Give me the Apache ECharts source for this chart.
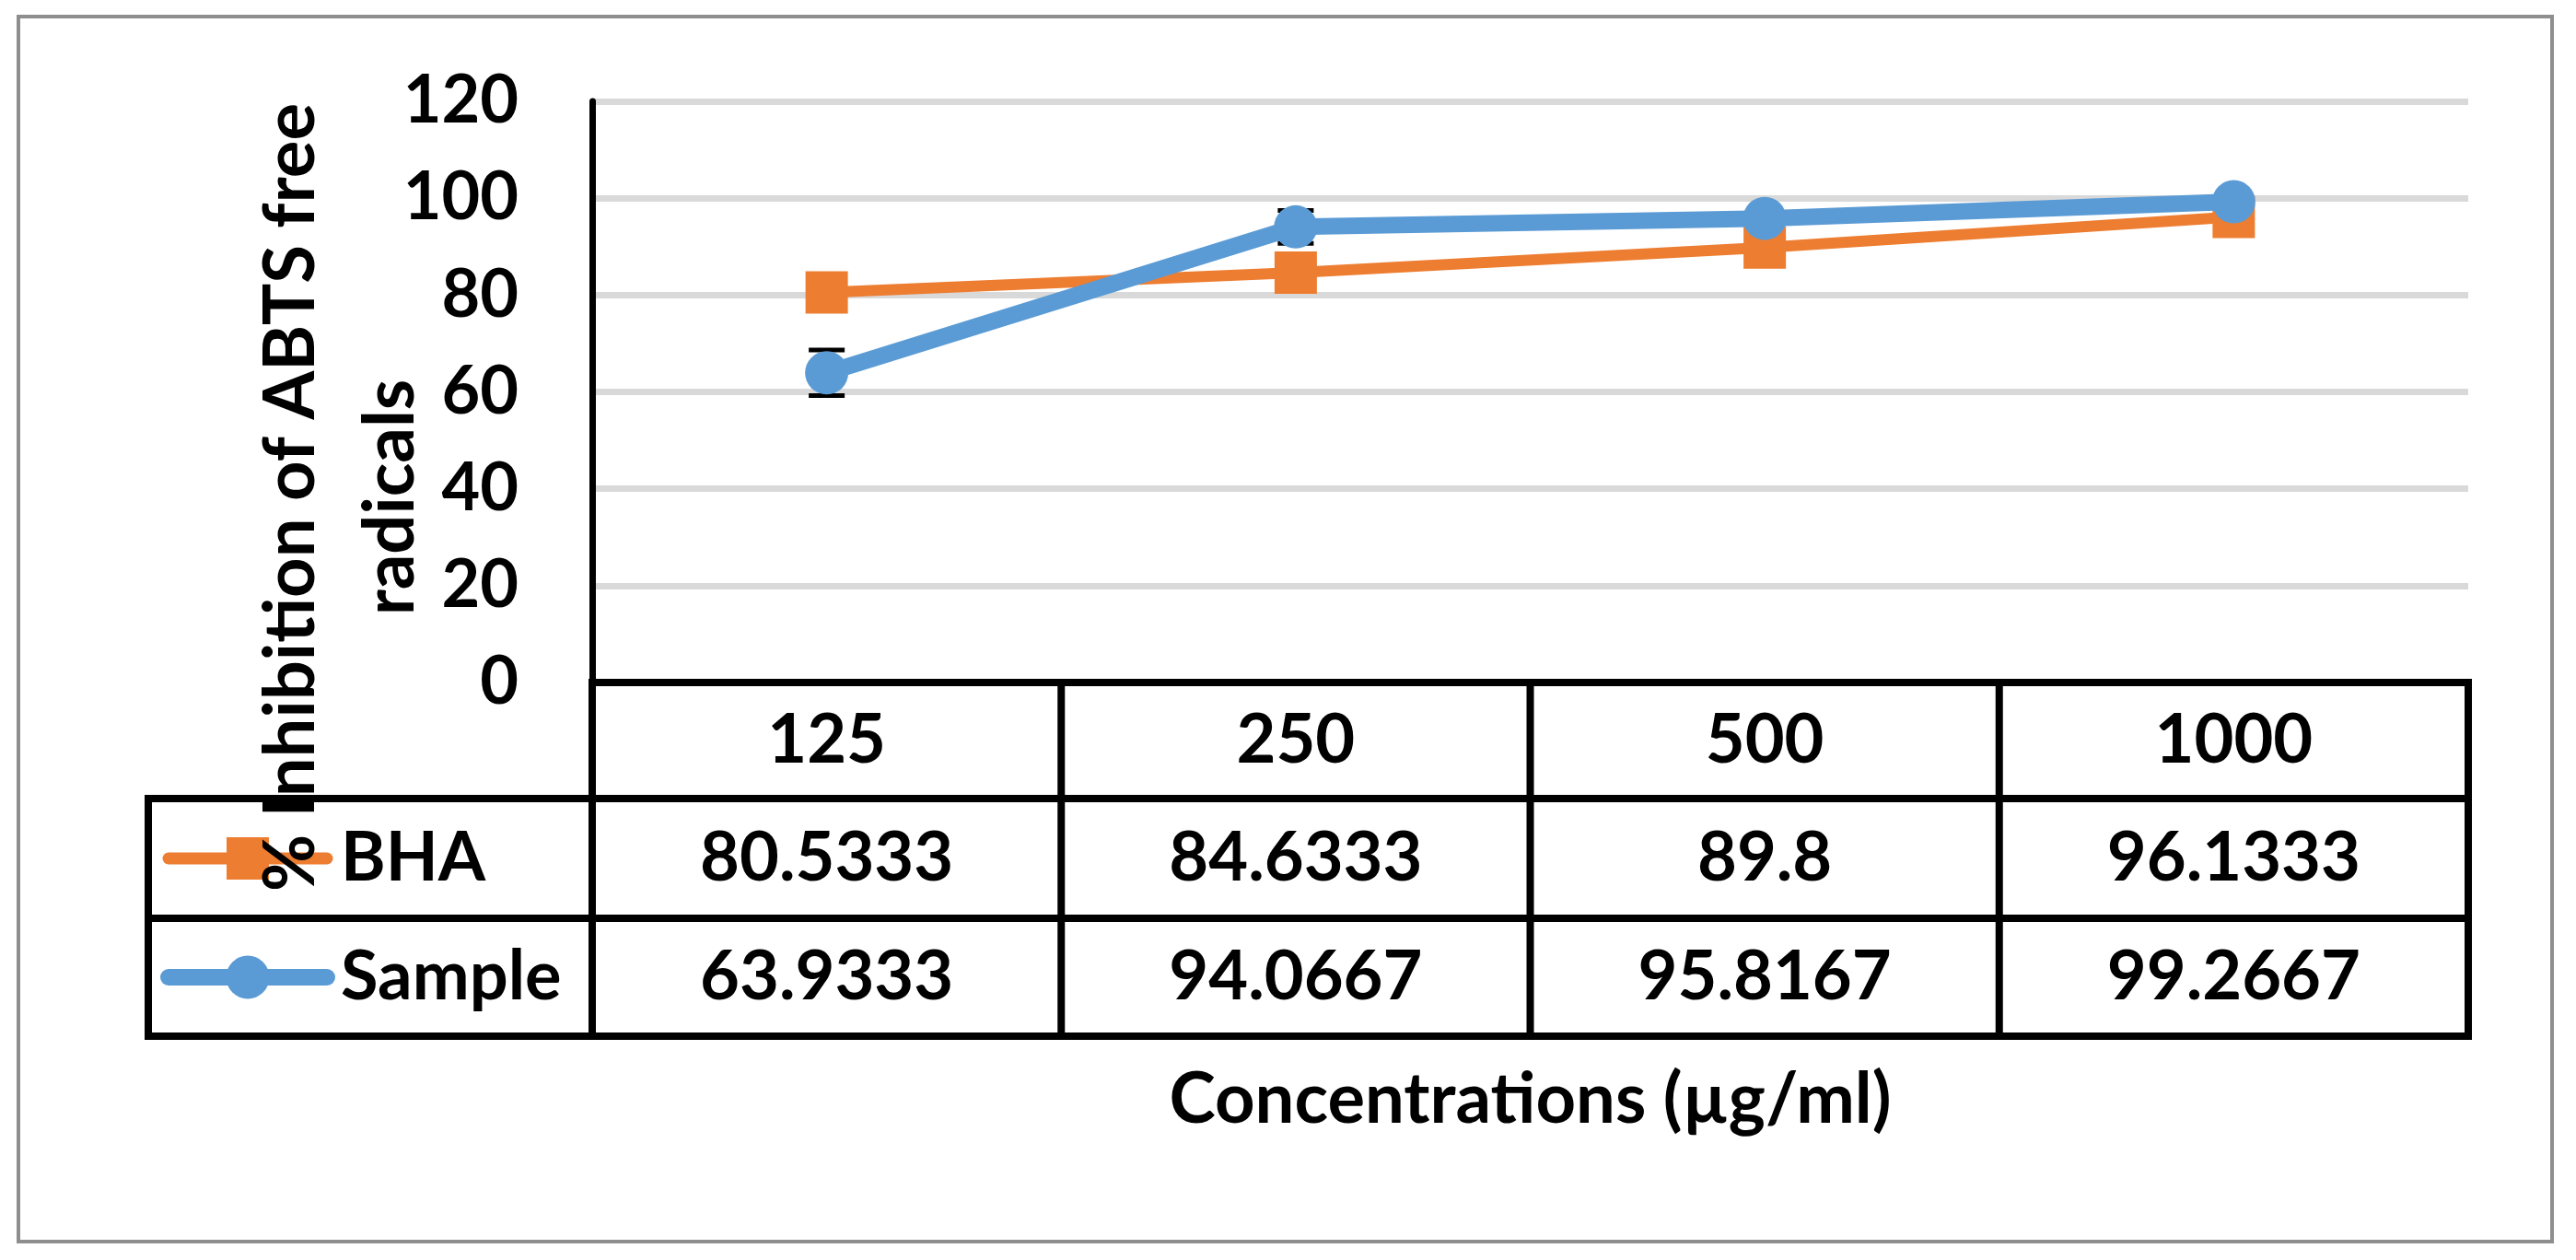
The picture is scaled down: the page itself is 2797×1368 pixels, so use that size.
<!DOCTYPE html>
<html>
<head>
<meta charset="utf-8">
<script src="https://cdn.jsdelivr.net/npm/echarts@6/dist/echarts.min.js"></script>
<style>
html,body{margin:0;padding:0;background:#fff;}
#chart{width:2797px;height:1368px;}
</style>
</head>
<body>
<div id="chart"></div>
<script>
const categories = ['125', '250', '500', '1000'];
const bhaValues = [80.5333, 84.6333, 89.8, 96.1333];
const sampleValues = [63.9333, 94.0667, 95.8167, 99.2667];
const sampleErrors = [4.7, 3.4, 1.0, 0.8];
const seriesNames = ['BHA', 'Sample'];
const yAxisTitleLines = ['% Inhibition of ABTS free', 'radicals'];
const xAxisTitle = 'Concentrations (\u00b5g/ml)';

const FONT = 'Lato';
const FS = 72;
const TABLE_FS = 74;
const TITLE_FS = 76;
const BHA_COLOR = '#ED7D31';
const SAMPLE_COLOR = '#5B9BD5';

const chart = echarts.init(document.getElementById('chart'), null, {renderer: 'canvas'});

const option = {
  animation: false,
  backgroundColor: '#fff',
  grid: {left: 643, right: 117, top: 110, bottom: 627, containLabel: false},
  xAxis: {
    type: 'category',
    data: categories,
    boundaryGap: true,
    axisLine: {show: true, lineStyle: {color: '#000', width: 8}},
    axisTick: {show: false},
    axisLabel: {show: false},
    splitLine: {show: false}
  },
  yAxis: {
    type: 'value',
    min: 0, max: 120, interval: 20,
    axisLine: {show: true, lineStyle: {color: '#000', width: 7}},
    axisTick: {show: false},
    axisLabel: {color: '#000', fontFamily: FONT, fontWeight: 'bold', fontSize: FS, margin: 80},
    splitLine: {show: true, lineStyle: {color: '#D9D9D9', width: 7}}
  },
  series: [
    {
      name: seriesNames[0], type: 'line', data: bhaValues,
      symbol: 'rect', symbolSize: 46,
      itemStyle: {color: BHA_COLOR},
      lineStyle: {color: BHA_COLOR, width: 12, cap: 'round'},
      z: 2
    },
    {
      name: 'err', type: 'custom', z: 3,
      data: sampleValues.map((v, i) => [i, v - sampleErrors[i], v + sampleErrors[i]]),
      renderItem: function (params, api) {
        const lo = api.coord([api.value(0), api.value(1)]);
        const hi = api.coord([api.value(0), api.value(2)]);
        const hw = 19.5;
        const st = {stroke: '#000', lineWidth: 5};
        return {type: 'group', children: [
          {type: 'line', shape: {x1: lo[0], y1: lo[1], x2: hi[0], y2: hi[1]}, style: st},
          {type: 'line', shape: {x1: lo[0] - hw, y1: lo[1], x2: lo[0] + hw, y2: lo[1]}, style: st},
          {type: 'line', shape: {x1: hi[0] - hw, y1: hi[1], x2: hi[0] + hw, y2: hi[1]}, style: st}
        ]};
      }
    },
    {
      name: seriesNames[1], type: 'line', data: sampleValues,
      symbol: 'circle', symbolSize: 47,
      itemStyle: {color: SAMPLE_COLOR},
      lineStyle: {color: SAMPLE_COLOR, width: 18, cap: 'round'},
      z: 4
    }
  ]
};
chart.setOption(option);

// ---- data table, legend keys and titles (positions from the library's axes) ----
const centers = categories.map(c => chart.convertToPixel({xAxisIndex: 0}, c));
const half = (centers[1] - centers[0]) / 2;
const bounds = centers.map(c => c - half).concat([centers[centers.length - 1] + half]);
const y0 = chart.convertToPixel({yAxisIndex: 0}, 0);
const rowH = [126, 130, 128];
const rowTops = [y0, y0 + rowH[0], y0 + rowH[0] + rowH[1]];
const tableBottom = y0 + rowH[0] + rowH[1] + rowH[2];
const legendLeft = 161;
const LW = 8;

const g = [];
const line = (x1, y1, x2, y2) => g.push({type: 'line', shape: {x1, y1, x2, y2}, style: {stroke: '#000', lineWidth: LW, lineCap: 'square'}, z: 100});
const txt = (text, x, y, align, size, extra) => g.push(Object.assign({
  type: 'text', x: x, y: y, z: 101,
  style: {text: text, x: 0, y: 0, align: align || 'center', verticalAlign: 'middle',
          font: 'bold ' + (size || TABLE_FS) + 'px ' + FONT, fill: '#000'}
}, extra || {}));

// outer border
g.push({type: 'rect', shape: {x: 20, y: 18, width: 2751, height: 1330}, style: {fill: null, stroke: '#8E8E8E', lineWidth: 4}, z: 0});

// horizontal lines
line(bounds[0], y0, bounds[bounds.length - 1], y0);
line(legendLeft, rowTops[1], bounds[bounds.length - 1], rowTops[1]);
line(legendLeft, rowTops[2], bounds[bounds.length - 1], rowTops[2]);
line(legendLeft, tableBottom, bounds[bounds.length - 1], tableBottom);
// vertical lines
bounds.forEach(b => line(b, y0, b, tableBottom));
line(legendLeft, rowTops[1], legendLeft, tableBottom);

// header row
const mid = i => rowTops[i] + rowH[i] / 2;
categories.forEach((c, i) => txt(c, centers[i], mid(0)));
// value rows
bhaValues.forEach((v, i) => txt(String(v), centers[i], mid(1)));
sampleValues.forEach((v, i) => txt(String(v), centers[i], mid(2)));

// legend keys
const keyX1 = 183, keyX2 = 355, keyC = 269, keyText = 370;
g.push({type: 'line', z: 102, shape: {x1: keyX1, y1: mid(1), x2: keyX2, y2: mid(1)}, style: {stroke: BHA_COLOR, lineWidth: 13, lineCap: 'round'}});
g.push({type: 'rect', z: 103, shape: {x: keyC - 23, y: mid(1) - 23, width: 46, height: 46}, style: {fill: BHA_COLOR}});
g.push({type: 'line', z: 102, shape: {x1: keyX1, y1: mid(2), x2: keyX2, y2: mid(2)}, style: {stroke: SAMPLE_COLOR, lineWidth: 18, lineCap: 'round'}});
g.push({type: 'circle', z: 103, shape: {cx: keyC, cy: mid(2), r: 23.5}, style: {fill: SAMPLE_COLOR}});
txt(seriesNames[0], keyText, mid(1), 'left');
txt(seriesNames[1], keyText, mid(2), 'left');

// axis titles
txt(yAxisTitleLines[0], 316, 540, 'center', TITLE_FS, {rotation: Math.PI / 2, z: 110});
txt(yAxisTitleLines[1], 424, 540, 'center', TITLE_FS, {rotation: Math.PI / 2, z: 110});
txt(xAxisTitle, (bounds[0] + bounds[bounds.length - 1]) / 2, 1194, 'center', TITLE_FS);

chart.setOption({graphic: g});
</script>
</body>
</html>
